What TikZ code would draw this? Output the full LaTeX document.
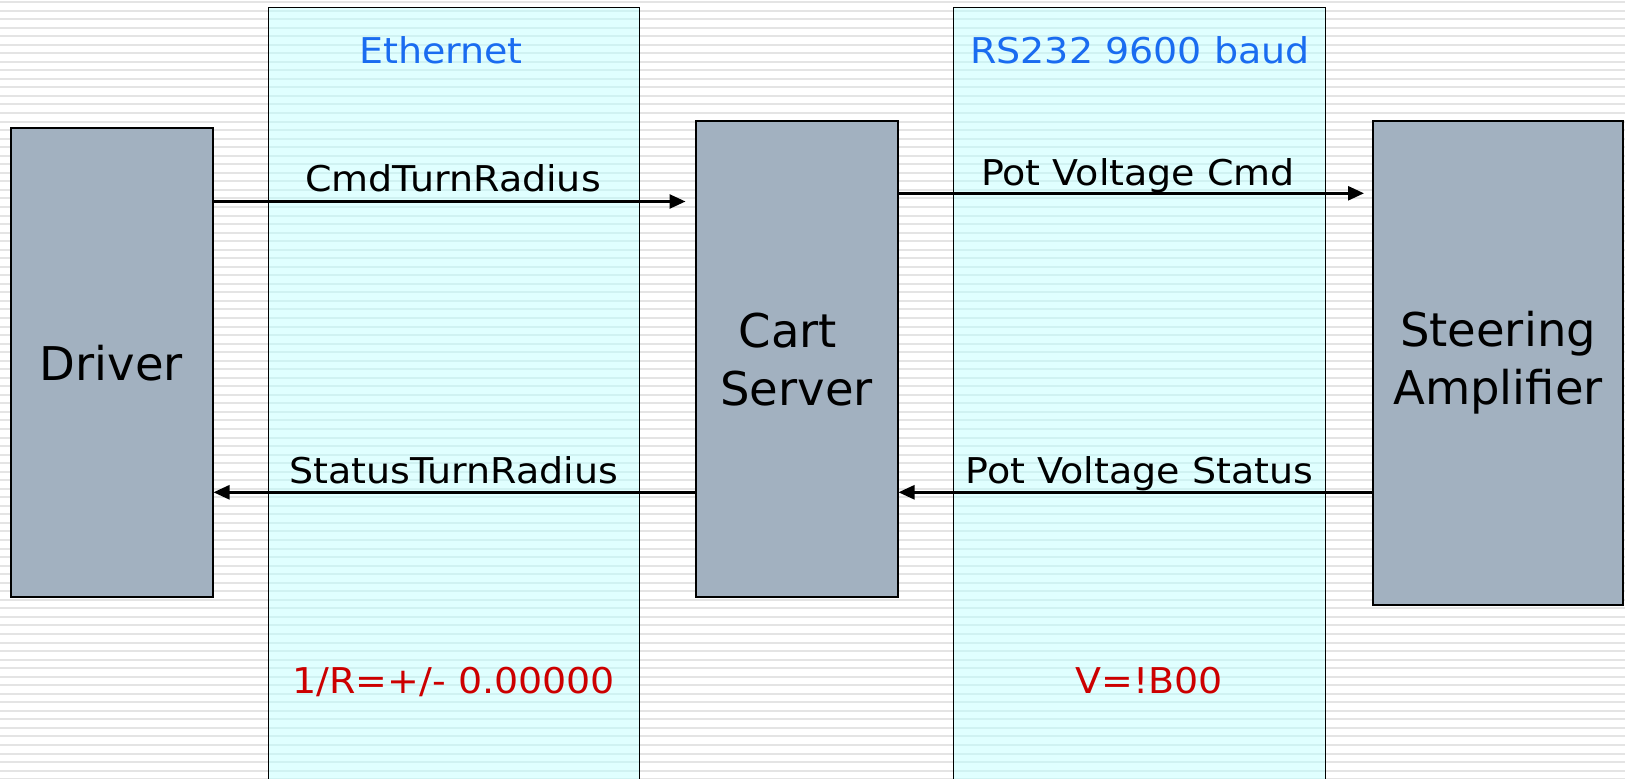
\documentclass[tikz,border=0pt]{standalone}
\usepackage{fontspec}
\setmainfont{DejaVu Sans}
\newfontfamily\widesans{DejaVu Sans}[FakeStretch=1.07]
\usetikzlibrary{arrows.meta}
\definecolor{bandfill}{RGB}{224,255,255}
\definecolor{boxfill}{RGB}{162,177,192}
\definecolor{stripe}{RGB}{228,228,228}
\definecolor{bandstripe}{RGB}{208,242,242}
\definecolor{netblue}{RGB}{26,108,240}
\definecolor{valred}{RGB}{204,0,0}
\tikzset{
  band/.style={draw=black, line width=1.5pt},
  block/.style={draw=black, line width=2pt, fill=boxfill, rectangle, align=center,
     font=\fontsize{46.5}{58}\selectfont, inner sep=0pt},
  msg/.style={-{Triangle[length=16pt,width=14pt]}, line width=2.6pt},
  msglabel/.style={anchor=base, font=\widesans\fontsize{35.5}{42}\selectfont, inner sep=0pt},
  chanlabel/.style={msglabel, text=netblue},
  vallabel/.style={msglabel, text=valred}
}
\begin{document}
\begin{tikzpicture}[x=1pt,y=-1pt]
\useasboundingbox (0,0) rectangle (1625,779);
% background
\fill[white] (0,0) rectangle (1625,779);
\foreach \i in {0,...,91} {
  \fill[stripe] (0,{1+8.54*\i}) rectangle (1625,{3+8.54*\i});
}
% bands
\fill[bandfill] (268.4,7.7) rectangle (639.4,790);
\fill[bandfill] (953.5,7.7) rectangle (1325.5,790);
\begin{scope}
\clip (268.4,7.7) rectangle (639.4,790) (953.5,7.7) rectangle (1325.5,790);
\foreach \i in {0,...,91} {
  \fill[bandstripe] (0,{1+8.54*\i}) rectangle (1625,{3+8.54*\i});
}
\end{scope}
\draw[band] (268.4,790) -- (268.4,7.7) -- (639.4,7.7) -- (639.4,790);
\draw[band] (953.5,790) -- (953.5,7.7) -- (1325.5,7.7) -- (1325.5,790);
% channel labels
\node[chanlabel] (eth) at (441,63.3) {Ethernet};
\node[chanlabel] (rs) at (1140,63.3) {RS232 9600 baud};
% blocks
\node[block, minimum width=202pt, minimum height=468.5pt] (driver) at (111.5,362.7) {Driver};
\node[block, minimum width=202pt, minimum height=475.7pt] (cart) at (796.5,359.2) {Cart\kern17pt\\Server};
\node[block, minimum width=250pt, minimum height=484pt] (steer) at (1498,363) {Steering\\Amplifier};
% connectors
\coordinate (c1) at ([xshift=-9pt]cart.west |- 0,201.5);
\draw[msg] (driver.east |- 0,201.5) -- (c1);
\coordinate (c2) at ([xshift=-8pt]steer.west |- 0,193.3);
\draw[msg] (cart.east |- 0,193.3) -- (c2);
\draw[msg] (cart.west |- 0,492.3) -- (driver.east |- 0,492.3);
\draw[msg] (steer.west |- 0,492.3) -- (cart.east |- 0,492.3);
% message labels
\node[msglabel] (l1) at (453,191.7) {CmdTurnRadius};
\node[msglabel] (l2) at (1138,185) {Pot Voltage Cmd};
\node[msglabel] (l3) at (453.8,483.3) {StatusTurnRadius};
\node[msglabel] (l4) at (1139.5,483.3) {Pot Voltage Status};
% values
\node[vallabel] (v1) at (453.8,693.3) {1/R=+/- 0.00000};
\node[vallabel] (v2) at (1149,693.3) {V=!B00};
\end{tikzpicture}
\end{document}
